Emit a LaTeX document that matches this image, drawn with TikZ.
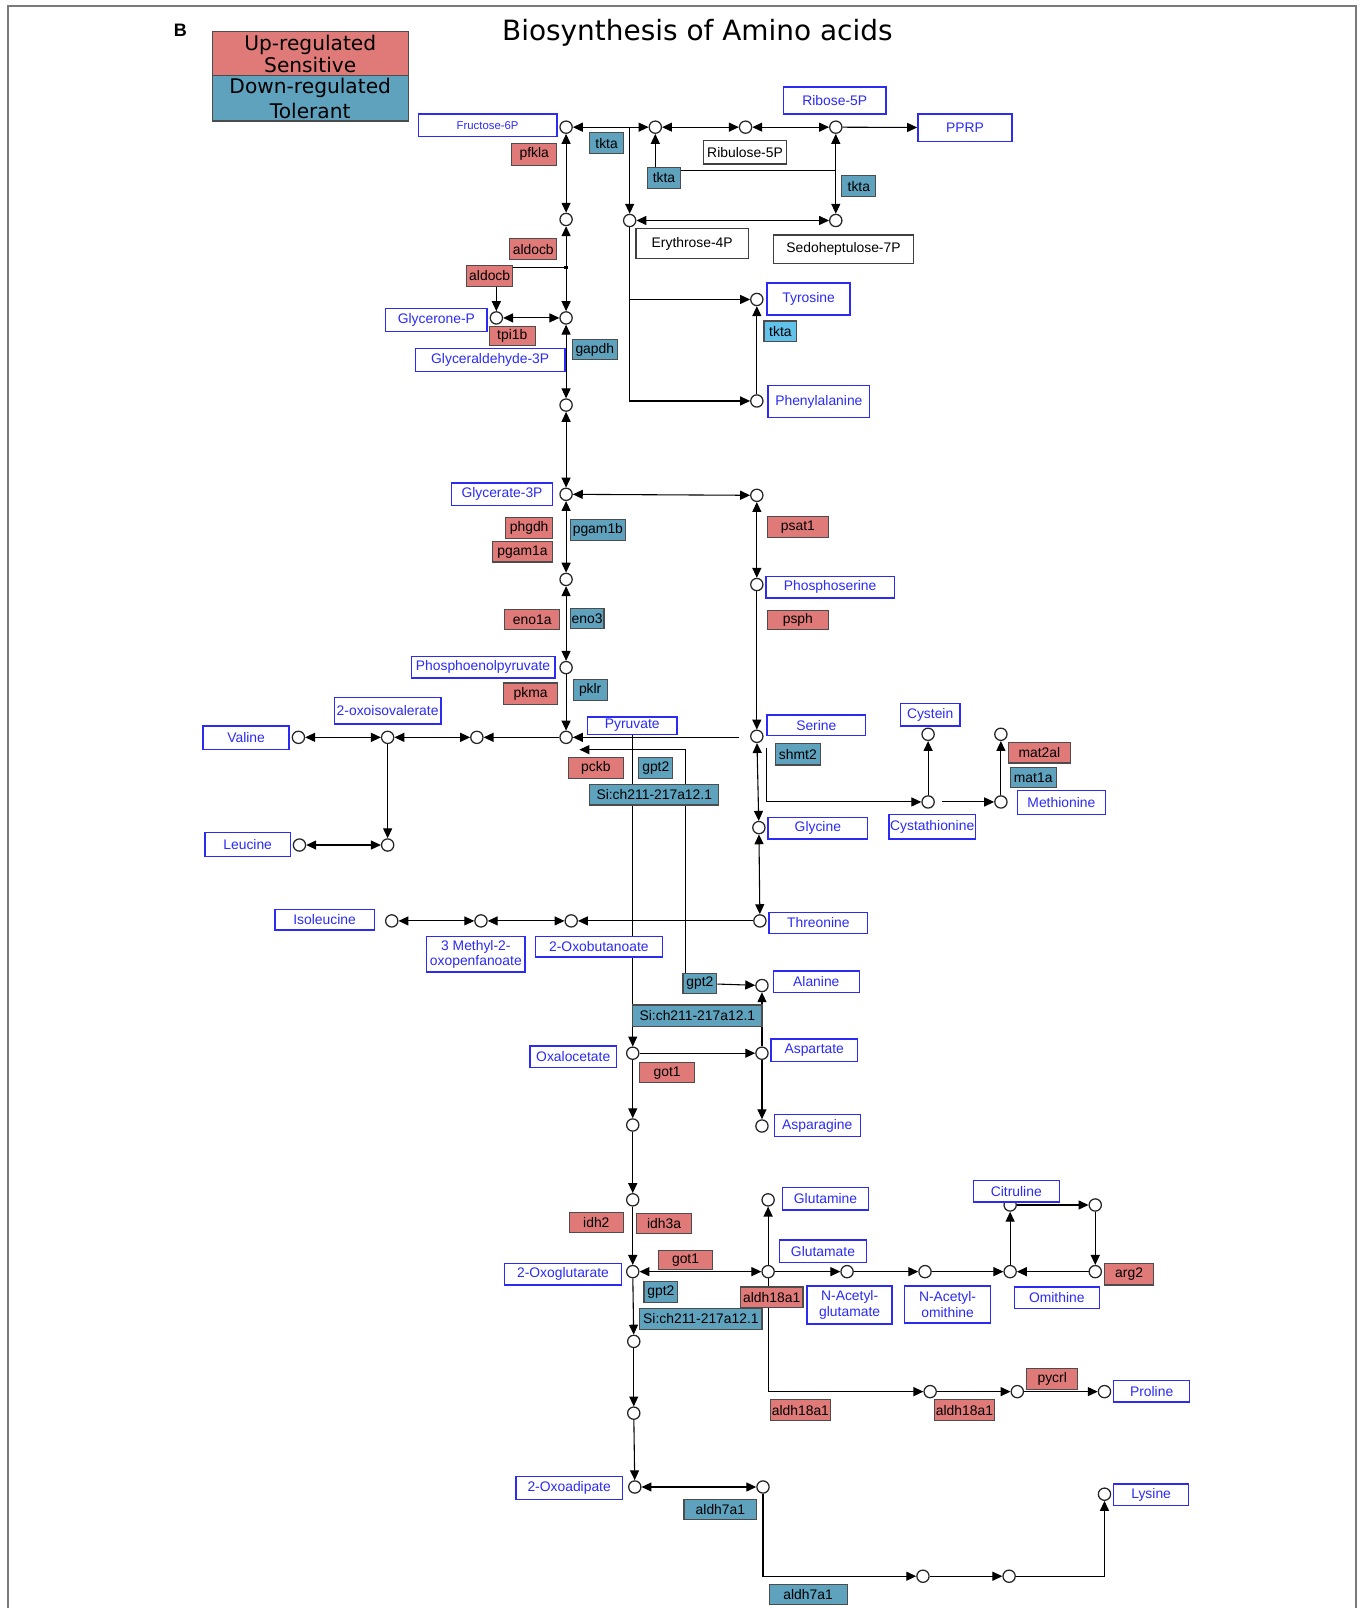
\documentclass[tikz,border=0pt]{standalone}
\usepackage{fontspec}
\setmainfont{Liberation Sans}
\newfontfamily\titlefont{DejaVu Sans}
\usetikzlibrary{arrows.meta}

\definecolor{kgblue}{HTML}{2B2BF5}
\definecolor{kgup}{HTML}{E07A78}
\definecolor{kgdown}{HTML}{5EA2BE}
\definecolor{kgsky}{HTML}{62C2EA}
\definecolor{kgframe}{HTML}{7A7A7A}

\pgfdeclarelayer{edges}
\pgfsetlayers{edges,main}

\begin{document}
\begin{tikzpicture}[
  x=0.2mm, y=-0.2mm,
  font=\fontsize{7.7}{8.5}\selectfont,
  sz/.style 2 args={minimum width=#1mm, minimum height=#2mm},
  met/.style={draw=kgblue, line width=0.8pt, fill=white, text=kgblue, inner sep=0pt, align=center},
  cpd/.style={draw=black!75, line width=0.8pt, fill=white, inner sep=0pt},
  upg/.style={draw=black!70, line width=0.6pt, fill=kgup, inner sep=0pt},
  dng/.style={draw=black!70, line width=0.6pt, fill=kgdown, inner sep=0pt},
  pt/.style={circle, draw=black!85, line width=0.7pt, fill=white, minimum size=6.8pt, inner sep=0pt},
  rx/.style={line width=0.6pt, -{Triangle[length=5.5pt, width=5pt]}},
  rxx/.style={line width=0.6pt, {Triangle[length=5.5pt, width=5pt]}-{Triangle[length=5.5pt, width=5pt]}},
  ln/.style={line width=0.6pt},
]
  \useasboundingbox (0,0) rectangle (1329,1568);
  % frame
  \draw[kgframe, line width=1.2pt] (8,1568) -- (8,6) -- (1322,6) -- (1322,1568);

  % title and legend
  \node[font=\bfseries\fontsize{10}{12}\selectfont] (panel) at (176,30) {B};
  \node[font=\titlefont\fontsize{15.5}{18}\selectfont] (title) at (680,32) {Biosynthesis of Amino acids};
  \node[upg, sz={38.2}{8.6}, align=center, font=\titlefont\fontsize{11.2}{10}\selectfont] (legup) at (302.5,52.5) {Up-regulated\\Sensitive};
  \node[dng, sz={38.2}{8.8}, align=center, font=\titlefont\fontsize{11.2}{13.6}\selectfont] (legdn) at (302.5,96) {Down-regulated\\Tolerant};

  % compound points
  \node[pt] (cF) at (552,124) {};
  \node[pt] (cR2) at (639,124) {};
  \node[pt] (cR3) at (727,124) {};
  \node[pt] (cR4) at (815,124) {};
  \node[pt] (cA5) at (552,214) {};
  \node[pt] (cE) at (614,215) {};
  \node[pt] (cS) at (815,215) {};
  \node[pt] (cGP) at (484,310) {};
  \node[pt] (cGA) at (552,310) {};
  \node[pt] (cG3) at (552,395) {};
  \node[pt] (cTyr) at (738,292) {};
  \node[pt] (cPhe) at (738,391) {};
  \node[pt] (cG4) at (552,482) {};
  \node[pt] (cS1) at (738,483) {};
  \node[pt] (cG5) at (552,565) {};
  \node[pt] (cPS) at (738,570) {};
  \node[pt] (cPEP) at (552,651) {};
  \node[pt] (cPyr) at (552,719) {};
  \node[pt] (cSer) at (738,718) {};
  \node[pt] (cV1) at (465,719) {};
  \node[pt] (cOIV) at (378,719) {};
  \node[pt] (cVal) at (291,719) {};
  \node[pt] (cL2) at (378,824) {};
  \node[pt] (cLeu) at (292,824) {};
  \node[pt] (cGly) at (740,807) {};
  \node[pt] (cThr) at (741,898) {};
  \node[pt] (cCyt) at (905,782) {};
  \node[pt] (cCys) at (905,716) {};
  \node[pt] (cMet) at (976,782) {};
  \node[pt] (cM2) at (976,716) {};
  \node[pt] (cOB) at (557,898) {};
  \node[pt] (cMO) at (469,898) {};
  \node[pt] (cIle) at (382,898) {};
  \node[pt] (cAla) at (743,961) {};
  \node[pt] (cOxa) at (617,1027) {};
  \node[pt] (cAsp) at (743,1027) {};
  \node[pt] (cO2) at (617,1097) {};
  \node[pt] (cAsn) at (743,1098) {};
  \node[pt] (cO3) at (617,1170) {};
  \node[pt] (cGln) at (749,1170) {};
  \node[pt] (cOxg) at (617,1240) {};
  \node[pt] (cGlu) at (749,1240) {};
  \node[pt] (cNAG) at (826,1240) {};
  \node[pt] (cNAO) at (902,1240) {};
  \node[pt] (cOrn) at (985,1240) {};
  \node[pt] (cCit) at (985,1175) {};
  \node[pt] (cC2) at (1068,1175) {};
  \node[pt] (cC3) at (1068,1240) {};
  \node[pt] (cK1) at (618,1308) {};
  \node[pt] (cK2) at (618,1378) {};
  \node[pt] (cOxd) at (619,1450) {};
  \node[pt] (cK3) at (744,1450) {};
  \node[pt] (cP1) at (907,1357) {};
  \node[pt] (cP2) at (992,1357) {};
  \node[pt] (cPro) at (1077,1357) {};
  \node[pt] (cL1) at (900,1537) {};
  \node[pt] (cLy2) at (984,1537) {};
  \node[pt] (cLys) at (1077,1457) {};
  \node[fill, minimum size=2pt, inner sep=0pt] (jA) at (552,261) {};
  \coordinate (jE) at (614,124);
  \coordinate (jT) at (815,166);
  \coordinate (jS) at (721,719);
  \coordinate (jG) at (668,731);
  \coordinate (jP) at (565,731);
  \coordinate (jC) at (747,729);
  \coordinate (jM) at (919,782);

  % metabolites
  \node[met, sz={27}{4.4}, font=\fontsize{6.3}{7}\selectfont] (fru) at (475.5,122) {Fructose-6P};
  \node[met, sz={20}{5.2}] (rib) at (814,98) {Ribose-5P};
  \node[met, sz={18.4}{5.4}] (pprp) at (941,124.5) {PPRP};
  \node[met, sz={19.8}{4.4}] (glyp) at (425.5,312) {Glycerone-P};
  \node[met, sz={29.2}{4.4}] (gap) at (478,351) {Glyceraldehyde-3P};
  \node[met, sz={16.2}{6.2}] (tyr) at (788.5,291.5) {Tyrosine};
  \node[met, sz={19.8}{6.2}] (phe) at (798.5,391.5) {Phenylalanine};
  \node[met, sz={19.8}{4.4}] (g3p) at (489.5,482) {Glycerate-3P};
  \node[met, sz={25}{4.2}] (pser) at (809.5,572.5) {Phosphoserine};
  \node[met, sz={28}{4.2}] (pep) at (471,650.5) {Phosphoenolpyruvate};
  \node[met, sz={20.8}{5.2}] (oiv) at (378,693) {2-oxoisovalerate};
  \node[met, sz={16.8}{4.6}] (val) at (240,719.5) {Valine};
  \node[met, sz={17.4}{3.4}] (pyr) at (616.5,707.5) {Pyruvate};
  \node[met, sz={19.2}{4}] (ser) at (796,707) {Serine};
  \node[met, sz={11.6}{4.4}] (cys) at (907,697) {Cystein};
  \node[met, sz={17.2}{4.6}] (met) at (1035,782.5) {Methionine};
  \node[met, sz={16.8}{4.8}] (cysta) at (909,806) {Cystathionine};
  \node[met, sz={19.4}{4.2}] (gly) at (797.5,807.5) {Glycine};
  \node[met, sz={16.6}{4.6}] (leu) at (241.5,823.5) {Leucine};
  \node[met, sz={19.4}{4}] (ile) at (316.5,897) {Isoleucine};
  \node[met, sz={19.2}{4}] (thr) at (798,900) {Threonine};
  \node[met, sz={19.2}{7}] (mop) at (464,930.5) {3 Methyl-2-\\oxopenfanoate};
  \node[met, sz={24.8}{4}] (obu) at (584,923) {2-Oxobutanoate};
  \node[met, sz={16.8}{4.2}] (ala) at (796,957.5) {Alanine};
  \node[met, sz={16.8}{4.4}] (asp) at (794,1024) {Aspartate};
  \node[met, sz={16.8}{4.2}] (oxa) at (559,1030.5) {Oxalocetate};
  \node[met, sz={16.8}{4.2}] (asn) at (797,1097.5) {Asparagine};
  \node[met, sz={16.8}{4.4}] (gln) at (805,1169) {Glutamine};
  \node[met, sz={16.8}{4.2}] (citr) at (991,1161.5) {Citruline};
  \node[met, sz={17}{4.4}] (glu) at (802.5,1220) {Glutamate};
  \node[met, sz={22.8}{4.2}] (oxg) at (549,1242.5) {2-Oxoglutarate};
  \node[met, sz={16.6}{7.4}] (nag) at (828.5,1272.5) {N-Acetyl-\\glutamate};
  \node[met, sz={16.8}{7.2}] (nao) at (924,1272) {N-Acetyl-\\omithine};
  \node[met, sz={16.6}{4.2}] (orn) at (1030.5,1265.5) {Omithine};
  \node[met, sz={14.8}{4.2}] (pro) at (1123,1356.5) {Proline};
  \node[met, sz={20.8}{4.4}] (oxad) at (555,1451) {2-Oxoadipate};
  \node[met, sz={14.6}{4.2}] (lys) at (1122.5,1457.5) {Lysine};
  \node[cpd, sz={16.2}{4.6}] (ribu) at (726.5,148.5) {Ribulose-5P};
  \node[cpd, sz={22}{5.8}] (ery) at (675,237.5) {Erythrose-4P};
  \node[cpd, sz={27.4}{5.6}] (sed) at (822.5,243) {Sedoheptulose-7P};

  % genes, up-regulated
  \node[upg, sz={8.8}{4.2}] (pfkla) at (521,150.5) {pfkla};
  \node[upg, sz={9.2}{4}] (aldocbA) at (520,243) {aldocb};
  \node[upg, sz={9}{4}] (aldocbB) at (477.5,269) {aldocb};
  \node[upg, sz={9}{3.8}] (tpib) at (499.5,327.5) {tpi1b};
  \node[upg, sz={9.2}{4}] (phgdh) at (516,515) {phgdh};
  \node[upg, sz={11.8}{4}] (pgama) at (509.5,538) {pgam1a};
  \node[upg, sz={10.8}{4}] (enoa) at (519,604) {eno1a};
  \node[upg, sz={10.6}{4.2}] (pkma) at (517.5,676.5) {pkma};
  \node[upg, sz={10.8}{4}] (pckb) at (581,749) {pckb};
  \node[upg, sz={12}{4}] (psat) at (778,514) {psat1};
  \node[upg, sz={12}{3.8}] (psph) at (778,604.5) {psph};
  \node[upg, sz={12.2}{4}] (matal) at (1013.5,734) {mat2al};
  \node[upg, sz={10.6}{4}] (gotA) at (650.5,1046) {got1};
  \node[upg, sz={10.6}{4}] (idh) at (581.5,1192) {idh2};
  \node[upg, sz={10.6}{4}] (idha) at (647.5,1193) {idh3a};
  \node[upg, sz={10.6}{3.8}] (gotB) at (668.5,1228.5) {got1};
  \node[upg, sz={12.2}{4}] (aldhA) at (752.5,1265) {aldh18a1};
  \node[upg, sz={9.6}{4.2}] (arg) at (1101,1242.5) {arg2};
  \node[upg, sz={10}{4.2}] (pycrl) at (1026,1344.5) {pycrl};
  \node[upg, sz={11.8}{4}] (aldhB) at (780.5,1375) {aldh18a1};
  \node[upg, sz={11.8}{4}] (aldhC) at (940.5,1375) {aldh18a1};

  % genes, down-regulated
  \node[dng, sz={6.6}{4.2}] (tktaA) at (591.5,139.5) {tkta};
  \node[dng, sz={6.6}{4.2}] (tktaB) at (647.5,173.5) {tkta};
  \node[dng, sz={6.6}{4.2}] (tktaC) at (837.5,181.5) {tkta};
  \node[dng, sz={6.4}{4}, fill=kgsky] (tktaD) at (761,323) {tkta};
  \node[dng, sz={8.8}{4}] (gapdh) at (580,341) {gapdh};
  \node[dng, sz={10.8}{4}] (pgamb) at (583,517) {pgam1b};
  \node[dng, sz={6.6}{4}] (eno) at (572.5,603) {eno3};
  \node[dng, sz={6.6}{4}] (pklr) at (575.5,673) {pklr};
  \node[dng, sz={6.6}{4}] (gptA) at (639.5,749) {gpt2};
  \node[dng, sz={25.2}{4}] (siA) at (638,775) {Si:ch211-217a12.1};
  \node[dng, sz={8.8}{4.2}] (shmt) at (778,735.5) {shmt2};
  \node[dng, sz={9}{4}] (matA) at (1007.5,758) {mat1a};
  \node[dng, sz={6.6}{4}] (gptB) at (682.5,959) {gpt2};
  \node[dng, sz={25.2}{4.2}] (siB) at (680,990.5) {Si:ch211-217a12.1};
  \node[dng, sz={6.6}{4}] (gptC) at (644.5,1260) {gpt2};
  \node[dng, sz={23.8}{4}] (siC) at (683.5,1286) {Si:ch211-217a12.1};
  \node[dng, sz={14.2}{4}] (aldhD) at (702.5,1472) {aldh7a1};
  \node[dng, sz={15.2}{4}] (aldhE) at (788,1555) {aldh7a1};

  \begin{pgfonlayer}{edges}
  % pentose phosphate
  \draw[rxx] (cF) -- (cR2);
  \draw[rxx] (cR2) -- (cR3);
  \draw[rxx] (cR3) -- (cR4);
  \draw[rx] (cR4) -- (pprp);
  \draw[rx] (jE) -- (cE);
  \draw[rx] (tktaB.north -| cR2) -- (cR2);
  \draw[ln] (tktaB.east |- jT) -- (jT);
  \draw[rxx] (cR4) -- (cS);
  \draw[rxx] (cE) -- (cS);
  \draw[rx] (cE) |- (cPhe);
  \draw[rx] (cE |- cTyr) -- (cTyr);
  \draw[rx] (cPhe) -- (cTyr);
  % glycolysis
  \draw[rxx] (cF) -- (cA5);
  \draw[rxx] (cA5) -- (cGA);
  \draw[rx] (jA.center) -| (cGP);
  \draw[rxx] (cGP) -- (cGA);
  \draw[rxx] (cGA) -- (cG3);
  \draw[rxx] (cG3) -- (cG4);
  \draw[rxx] (cG4) -- (cS1);
  \draw[rxx] (cG4) -- (cG5);
  \draw[rxx] (cS1) -- (cPS);
  \draw[rxx] (cG5) -- (cPEP);
  \draw[rx] (cPEP) -- (cPyr);
  \draw[rx] (cPS) -- (cSer);
  \draw[rx] (jS) -- (cPyr);
  \draw[rx] (jG |- gptB.north) -- (jG) -- (jP);
  \draw[rx] (cOxa |- pyr.south) -- (cOxa);
  % branched chain
  \draw[rx] (cPyr) -- (cV1);
  \draw[rxx] (cV1) -- (cOIV);
  \draw[rxx] (cOIV) -- (cVal);
  \draw[rx] (cOIV) -- (cL2);
  \draw[rxx] (cL2) -- (cLeu);
  % serine, glycine, threonine
  \draw[rxx] (cSer) -- (cGly);
  \draw[rx] (jC) |- (cCyt);
  \draw[rx] (cCyt) -- (cCys);
  \draw[rx] (jM) -- (cMet);
  \draw[rx] (cMet) -- (cM2);
  \draw[rxx] (cGly) -- (cThr);
  \draw[rx] (cThr) -- (cOB);
  \draw[rxx] (cOB) -- (cMO);
  \draw[rxx] (cMO) -- (cIle);
  % alanine, aspartate
  \draw[rx] (gptB) -- (cAla);
  \draw[rx] (cAsp) -- (cAla);
  \draw[rx] (cOxa) -- (cAsp);
  \draw[rx] (cAsp) -- (cAsn);
  \draw[rx] (cOxa) -- (cO2);
  \draw[rx] (cO2) -- (cO3);
  \draw[rx] (cO3) -- (cOxg);
  % glutamate family
  \draw[rxx] (cOxg) -- (cGlu);
  \draw[rx] (cGlu) -- (cGln);
  \draw[rx] (cGlu) -- (cNAG);
  \draw[rx] (cNAG) -- (cNAO);
  \draw[rx] (cNAO) -- (cOrn);
  \draw[rx] (cOrn) -- (cCit);
  \draw[rx] (cCit) -- (cC2);
  \draw[rx] (cC2) -- (cC3);
  \draw[rx] (cC3) -- (cOrn);
  \draw[rx] (cGlu) |- (cP1);
  \draw[rx] (cP1) -- (cP2);
  \draw[rx] (cP2) -- (cPro);
  % lysine
  \draw[rx] (cOxg) -- (cK1);
  \draw[rx] (cK1) -- (cK2);
  \draw[rx] (cK2) -- (cOxd);
  \draw[rxx] (cOxd) -- (cK3);
  \draw[rx] (cK3) |- (cL1);
  \draw[rx] (cL1) -- (cLy2);
  \draw[rx] (cLy2) -| (cLys);
  \end{pgfonlayer}
\end{tikzpicture}
\end{document}
